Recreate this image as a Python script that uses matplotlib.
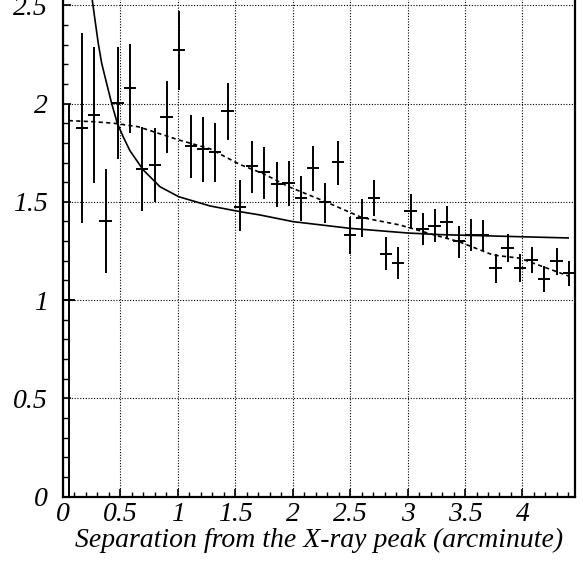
import numpy as np
import matplotlib
matplotlib.use("Agg")
import matplotlib.pyplot as plt
from matplotlib.ticker import MultipleLocator

# radial profile
sep = [0.05, 0.163, 0.267, 0.371, 0.476, 0.583, 0.690, 0.798, 0.902, 1.007,
       1.114, 1.221, 1.326, 1.433, 1.540, 1.645, 1.749, 1.860, 1.964, 2.069,
       2.176, 2.283, 2.391, 2.498, 2.602, 2.707, 2.811, 2.918, 3.026, 3.130,
       3.235, 3.339, 3.447, 3.551, 3.658, 3.766, 3.870, 3.977, 4.084, 4.189,
       4.297, 4.404]
val = [1.0, 1.877, 1.940, 1.402, 2.003, 2.078, 1.667, 1.689, 1.932, 2.273,
       1.784, 1.771, 1.752, 1.961, 1.475, 1.681, 1.650, 1.589, 1.594, 1.520,
       1.672, 1.498, 1.701, 1.330, 1.419, 1.520, 1.235, 1.189, 1.453, 1.360,
       1.377, 1.397, 1.302, 1.333, 1.331, 1.162, 1.265, 1.163, 1.204, 1.107,
       1.197, 1.136]
val_lo = [0.0, 1.394, 1.594, 1.136, 1.716, 1.850, 1.455, 1.501, 1.747, 2.069,
          1.620, 1.601, 1.603, 1.813, 1.350, 1.547, 1.514, 1.472, 1.479, 1.404,
          1.557, 1.394, 1.587, 1.233, 1.323, 1.428, 1.153, 1.106, 1.365, 1.279,
          1.294, 1.314, 1.216, 1.251, 1.251, 1.085, 1.192, 1.094, 1.136, 1.040,
          1.129, 1.072]
val_hi = [2.0, 2.360, 2.286, 1.666, 2.290, 2.305, 1.882, 1.874, 2.115, 2.471,
          1.942, 1.933, 1.901, 2.105, 1.610, 1.811, 1.778, 1.704, 1.706, 1.630,
          1.786, 1.594, 1.811, 1.424, 1.513, 1.611, 1.320, 1.272, 1.542, 1.442,
          1.462, 1.479, 1.377, 1.413, 1.408, 1.233, 1.336, 1.233, 1.272, 1.175,
          1.265, 1.201]
bin_half = 0.053

# solid model curve
solid_x = [0.240, 0.255, 0.279, 0.307, 0.337, 0.380, 0.424, 0.473, 0.525, 0.583,
           0.699, 0.844, 1.007, 1.279, 1.540, 1.715, 2.004, 2.498, 3.005, 3.281,
           4.398]
solid_y = [2.600, 2.527, 2.425, 2.307, 2.205, 2.103, 2.000, 1.900, 1.830, 1.760,
           1.662, 1.577, 1.526, 1.479, 1.450, 1.433, 1.399, 1.365, 1.341, 1.333,
           1.316]

# dashed model curve
dash_x = [0.05, 0.25, 0.44, 0.655, 1.007, 1.279, 1.540, 1.749, 1.964, 2.283,
          2.602, 2.933, 3.235, 3.447, 3.745, 3.977, 4.398]
dash_y = [1.913, 1.908, 1.900, 1.882, 1.815, 1.770, 1.690, 1.642, 1.577, 1.501,
          1.420, 1.382, 1.331, 1.297, 1.229, 1.213, 1.123]

plt.rcParams['font.family'] = 'Liberation Serif'
plt.rcParams['font.style'] = 'italic'

fig = plt.figure(figsize=(5.83, 5.63), dpi=100)
ax = fig.add_axes([0.108, 0.118, 0.878, 0.9075])

x = np.array(sep)
y = np.array(val)
ax.errorbar(x, y, xerr=bin_half,
            yerr=[y - np.array(val_lo), np.array(val_hi) - y],
            fmt='none', ecolor='black', elinewidth=1.4, capsize=0)
ax.plot(solid_x, solid_y, color='black', lw=1.2)
ax.plot(dash_x, dash_y, color='black', lw=1.2, dashes=(2.5, 2))

ax.set_xlim(0, 4.456)
ax.set_ylim(0, 2.6)
ax.xaxis.set_minor_locator(MultipleLocator(0.1))
ax.yaxis.set_minor_locator(MultipleLocator(0.1))
ax.set_xticks([0, 0.5, 1, 1.5, 2, 2.5, 3, 3.5, 4])
ax.set_xticklabels(['0', '0.5', '1', '1.5', '2', '2.5', '3', '3.5', '4'])
ax.set_yticks([0, 0.5, 1, 1.5, 2, 2.5])
ax.set_yticklabels(['0', '0.5', '1', '1.5', '2', '2.5'])

ax.grid(True, which='major', color='black', lw=0.8, linestyle=(0, (1, 1.5)))
ax.tick_params(which='both', direction='in', color='black', labelsize=20)
ax.tick_params(which='major', length=6, width=1.2)
ax.tick_params(which='minor', length=3.5, width=1.0)
ax.tick_params(axis='y', pad=11)
ax.tick_params(axis='x', pad=4)
for s in ax.spines.values():
    s.set_linewidth(1.6)

ax.set_xlabel('Separation from the X-ray peak (arcminute)', fontsize=20,
              ha='right')
ax.xaxis.set_label_coords(0.977, -0.062)

fig.savefig('out.png', dpi=100)
